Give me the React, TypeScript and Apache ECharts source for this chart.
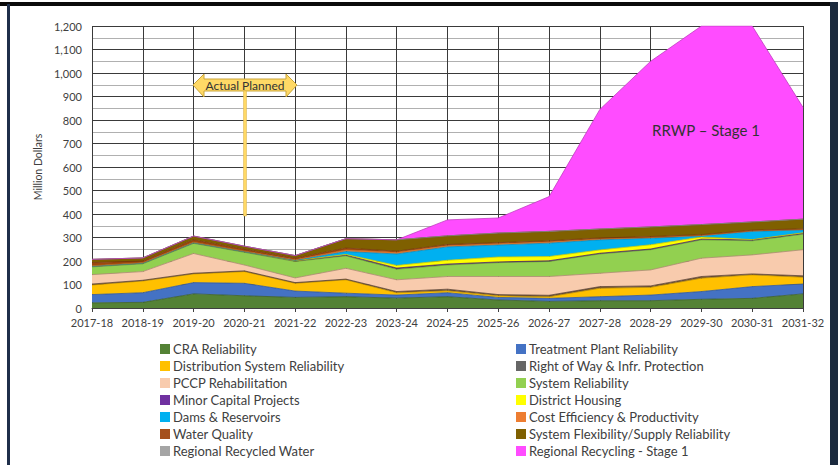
import React, { useEffect, useRef } from "react";
import * as echarts from "echarts";

const categories = ["2017-18","2018-19","2019-20","2020-21","2021-22","2022-23","2023-24","2024-25","2025-26","2026-27","2027-28","2028-29","2029-30","2030-31","2031-32"];

const craReliability = [22, 24, 60, 52, 45, 48, 42, 48, 34, 28, 31, 31, 37, 41, 60];
const treatmentPlant = [35, 41, 48, 53, 27, 15, 13, 17, 11, 13, 17, 24, 33, 50, 42];
const distributionSystem = [41, 50, 37, 50, 33, 57, 10, 8, 7, 7, 36, 33, 57, 50, 29];
const rightOfWay = [4, 3, 3, 3, 3, 3, 5, 7, 5, 6, 7, 6, 7, 4, 6];
const pccpRehab = [40, 37, 84, 25, 20, 46, 50, 54, 77, 80, 57, 68, 78, 81, 111];
const systemReliability = [33, 33, 43, 54, 70, 53, 45, 49, 59, 64, 82, 86, 78, 60, 66];
const minorCapital = [3, 3, 3, 3, 3, 3, 5, 4, 3, 3, 3, 3, 3, 4, 4];
const districtHousing = [0, 0, 0, 0, 0, 3, 11, 16, 21, 18, 14, 18, 9, 1, 2];
const damsReservoirs = [0, 0, 0, 0, 2, 12, 49, 57, 51, 57, 43, 28, 4, 35, 12];
const costEfficiency = [2, 2, 2, 2, 2, 7, 7, 6, 6, 6, 4, 3, 3, 2, 2];
const waterQuality = [13, 7, 10, 8, 7, 8, 5, 4, 4, 4, 4, 4, 3, 3, 3];
const systemFlexibility = [14, 13, 16, 13, 11, 40, 48, 37, 41, 40, 38, 41, 43, 35, 41];
const regionalRecycledWater = [0, 0, 0, 0, 0, 0, 0, 0, 0, 0, 0, 0, 0, 0, 0];
const regionalRecyclingStage1 = [0, 0, 0, 0, 0, 0, 0, 68, 64, 148, 509, 705, 845, 834, 476];

const yTicks = { min: 0, max: 1200, interval: 100 };

const seriesDefs = [
  { name: "CRA Reliability", data: craReliability, color: "#548235", line: "#3b5e25" },
  { name: "Treatment Plant Reliability", data: treatmentPlant, color: "#4472C4", line: "#2f5597" },
  { name: "Distribution System Reliability", data: distributionSystem, color: "#FFC000", line: "#b98c00" },
  { name: "Right of Way & Infr. Protection", data: rightOfWay, color: "#6b4f3a", line: "#5a4030" },
  { name: "PCCP Rehabilitation", data: pccpRehab, color: "#F8CBAD", line: "#b08870" },
  { name: "System Reliability", data: systemReliability, color: "#92D050", line: "#6a9a38" },
  { name: "Minor Capital Projects", data: minorCapital, color: "#5a3070", line: "#4a2860" },
  { name: "District Housing", data: districtHousing, color: "#FFFF00", line: "#c8c800" },
  { name: "Dams & Reservoirs", data: damsReservoirs, color: "#00B0F0", line: "#0088bb" },
  { name: "Cost Efficiency & Productivity", data: costEfficiency, color: "#ED7D31", line: "#c05f1a" },
  { name: "Water Quality", data: waterQuality, color: "#9E480E", line: "#7a360a" },
  { name: "System Flexibility/Supply Reliability", data: systemFlexibility, color: "#7F6000", line: "#5e4700" },
  { name: "Regional Recycled Water", data: regionalRecycledWater, color: "#A5A5A5", line: "#888888" },
  { name: "Regional Recycling - Stage 1", data: regionalRecyclingStage1, color: "#FF4CFF", line: "#c03cc0" },
];

const legendColors: Record<string, string> = {
  "Right of Way & Infr. Protection": "#666666",
  "Minor Capital Projects": "#7030A0",
  "Water Quality": "#A5501C",
};

const legendLeft = ["CRA Reliability", "Distribution System Reliability", "PCCP Rehabilitation", "Minor Capital Projects", "Dams & Reservoirs", "Water Quality", "Regional Recycled Water"];
const legendRight = ["Treatment Plant Reliability", "Right of Way & Infr. Protection", "System Reliability", "District Housing", "Cost Efficiency & Productivity", "System Flexibility/Supply Reliability", "Regional Recycling - Stage 1"];

const FONT = "Lato, 'Open Sans', sans-serif";

export default function App() {
  const ref = useRef<HTMLDivElement>(null);
  useEffect(() => {
    if (!ref.current) return;
    const chart = echarts.init(ref.current, undefined, { renderer: "svg" });
    const legendData = (names: string[]) =>
      names.map((n) => {
        const d = seriesDefs.find((s) => s.name === n)!;
        return { name: n, itemStyle: { color: legendColors[n] || d.color, borderWidth: 0 } };
      });
    const legendCommon = {
      orient: "vertical" as const,
      top: 342,
      height: 122,
      padding: 0,
      itemWidth: 10,
      itemHeight: 10,
      itemGap: 3,
      icon: "rect",
      selectedMode: false,
      textStyle: { fontFamily: FONT, fontSize: 13, color: "#404040", lineHeight: 14, padding: [0, 0, 0, -2] },
    };
    chart.setOption({
      animation: false,
      backgroundColor: "#ffffff",
      textStyle: { fontFamily: FONT },
      grid: { left: 92, right: 35, top: 26, bottom: 157, containLabel: false },
      legend: [
        { ...legendCommon, left: 160, data: legendData(legendLeft) },
        { ...legendCommon, left: 516, data: legendData(legendRight) },
      ],
      xAxis: {
        type: "category",
        data: categories,
        boundaryGap: false,
        axisLine: { lineStyle: { color: "#404040", width: 1 } },
        axisTick: { show: true, alignWithLabel: true, length: 4, lineStyle: { color: "#404040" } },
        axisLabel: { color: "#404040", fontSize: 11, fontFamily: FONT, margin: 9, interval: 0 },
        splitLine: { show: true, interval: 0, lineStyle: { color: "#3a3a3a", width: 1 } },
      },
      yAxis: {
        type: "value",
        min: yTicks.min,
        max: yTicks.max,
        interval: yTicks.interval,
        name: "Million Dollars",
        nameLocation: "middle",
        nameGap: 36,
        nameTextStyle: { fontFamily: FONT, fontSize: 10.5, color: "#404040" },
        axisLine: { show: false },
        axisTick: { show: false },
        axisLabel: {
          color: "#404040",
          fontSize: 11,
          fontFamily: FONT,
          margin: 10,
          formatter: (v: number) => v.toLocaleString("en-US"),
        },
        splitLine: { show: true, lineStyle: { color: "#3a3a3a", width: 1 } },
        minorTick: { show: false, splitNumber: 2 },
        minorSplitLine: { show: true, lineStyle: { color: "#b0b0b0", width: 1 } },
      },
      series: seriesDefs.map((s) => ({
        name: s.name,
        type: "line",
        stack: "total",
        data: s.data,
        symbol: "none",
        color: s.color,
        lineStyle: { color: s.line, width: 0.8 },
        areaStyle: { color: s.color, opacity: 1 },
        emphasis: { disabled: true },
      })),
      graphic: [
        { type: "rect", shape: { x: 0, y: 2, width: 838, height: 4 }, style: { fill: "#0a0a0a" }, z: 100 },
        { type: "rect", shape: { x: 7, y: 4, width: 3, height: 461 }, style: { fill: "#1f2f4a" }, z: 100 },
        { type: "rect", shape: { x: 830, y: 2, width: 8, height: 463 }, style: { fill: "#1b2a3e" }, z: 100 },
        {
          type: "polygon",
          shape: {
            points: [
              [193, 85], [204, 74], [204, 79], [286, 79], [286, 74], [297, 85],
              [286, 97], [286, 91], [204, 91], [204, 97],
            ],
          },
          style: { fill: "#FFD966", stroke: "#C9A53A", lineWidth: 1 },
          z: 100,
        },
        {
          type: "rect",
          shape: { x: 243.5, y: 91, width: 3, height: 125 },
          style: { fill: "#FFD966", stroke: "#D8B04A", lineWidth: 0.5 },
          z: 100,
        },
        {
          type: "text",
          x: 245,
          y: 85,
          style: { text: "Actual Planned", fill: "#333333", fontSize: 12, fontFamily: FONT, align: "center", verticalAlign: "middle" },
          z: 101,
        },
        {
          type: "text",
          x: 706,
          y: 130,
          style: { text: "RRWP – Stage 1", fill: "#333333", fontSize: 15, fontFamily: FONT, align: "center", verticalAlign: "middle" },
          z: 101,
        },
      ],
    });
    return () => chart.dispose();
  }, []);
  return <div ref={ref} style={{ width: 838, height: 465, position: "absolute", left: 0, top: 0 }} />;
}
